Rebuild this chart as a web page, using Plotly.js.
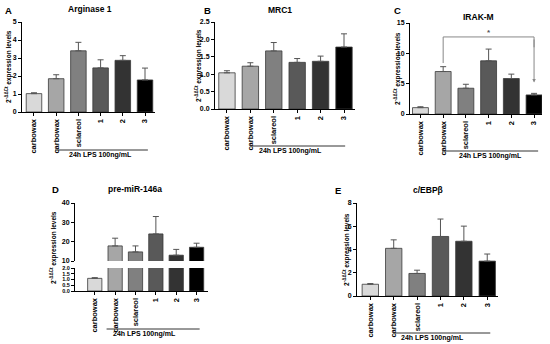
<!DOCTYPE html>
<html>
<head>
<meta charset="utf-8">
<script src="https://cdn.plot.ly/plotly-3.0.1.min.js"></script>
<style>html,body{margin:0;padding:0;background:#fff;}#chart{width:550px;height:344px;}</style>
</head>
<body>
<div id="chart"></div>
<script>
// ---- data ----
const categories = ["carbowax", "carbowax", "sclareol", "1", "2", "3"];
const barColors = ["#d9d9d9", "#a6a6a6", "#808080", "#595959", "#333333", "#000000"];

const arginase = [1.02, 1.85, 3.40, 2.45, 2.87, 1.78];
const arginaseErr = [0.05, 0.22, 0.47, 0.45, 0.26, 0.66];

const mrc1 = [1.04, 1.23, 1.67, 1.34, 1.37, 1.78];
const mrc1Err = [0.06, 0.10, 0.24, 0.11, 0.15, 0.38];

const irakm = [1.05, 7.0, 4.25, 8.77, 5.85, 3.14];
const irakmErr = [0.15, 0.80, 0.65, 1.93, 0.72, 0.26];

const premir = [1.1, 17.8, 14.7, 24.0, 13.0, 17.1];
const premirErr = [0.06, 4.0, 3.1, 9.0, 3.0, 2.1];

const cebpb = [1.01, 4.10, 1.94, 5.12, 4.71, 3.00];
const cebpbErr = [0.06, 0.73, 0.28, 1.50, 1.30, 0.61];

const xIdx = categories.map((c, i) => i);

// ---- helpers ----
const W = 550, H = 344;
const px = x => x / W;
const py = y => 1 - y / H;
const FONT = "Liberation Sans, Arial, sans-serif";
const bold = (size, color) => ({family: FONT, size: size, color: color || "#000", weight: "bold"});

function barTrace(vals, errs, xa, ya) {
  return {
    type: "bar", x: xIdx, y: vals, xaxis: xa, yaxis: ya,
    width: 0.7,
    marker: {color: barColors, line: {color: "#3a3a3a", width: 0.8}},
    error_y: {type: "data", symmetric: false, array: errs, arrayminus: errs.map(() => 0),
              color: "#555", thickness: 1, width: 3},
    hoverinfo: "skip"
  };
}

function xAxis(domain, range, anchor) {
  return {
    domain: domain, range: range, anchor: anchor,
    tickmode: "array", tickvals: xIdx, ticktext: categories, tickangle: -90,
    tickfont: bold(7.5), ticks: "outside", ticklen: 3, tickwidth: 1, tickcolor: "#000",
    showline: true, linecolor: "#000", linewidth: 1, showgrid: false, zeroline: false, fixedrange: true
  };
}
function yAxis(domain, range, dtick, anchor, fmt, fsize) {
  return {
    domain: domain, range: range, anchor: anchor, tickmode: "linear", tick0: 0, dtick: dtick,
    tickformat: fmt || "", tickfont: bold(fsize || 7), ticks: "outside", ticklen: 3, tickwidth: 1, tickcolor: "#000",
    showline: true, linecolor: "#000", linewidth: 1, showgrid: false, zeroline: false, fixedrange: true
  };
}

const data = [
  barTrace(arginase, arginaseErr, "x", "y"),
  barTrace(mrc1, mrc1Err, "x2", "y2"),
  barTrace(irakm, irakmErr, "x3", "y3"),
  // panel D: broken axis, lower and upper segments
  barTrace(premir, premirErr.map((e, i) => premir[i] <= 2 ? e : 0), "x4", "y4"),
  barTrace(premir, premirErr, "x4", "y5"),
  barTrace(cebpb, cebpbErr, "x5", "y6")
];

const yTitle = "2<sup>-ΔΔCt</sup> expression levels";

const annotations = [];
function ann(text, x, y, size, extra) {
  annotations.push(Object.assign({text: text, x: px(x), y: py(y), xref: "paper", yref: "paper",
    showarrow: false, font: bold(size), xanchor: "center", yanchor: "middle"}, extra || {}));
}
// panel letters
ann("A", 8, 10, 9.5);
ann("B", 207, 10, 9.5);
ann("C", 397, 10, 9.5);
ann("D", 55, 189, 9.5);
ann("E", 338, 190, 9.5);
// titles
ann("Arginase 1", 90, 9, 8.5);
ann("MRC1", 280, 10, 8.5);
ann("IRAK-M", 478, 17, 8.5);
ann("pre-miR-146a", 135, 189, 8.5);
ann("c/EBPβ", 428, 190, 8.5);
// y titles
ann(yTitle, 8, 67, 6.5, {textangle: -90});
ann(yTitle, 198, 66, 6.5, {textangle: -90});
ann(yTitle, 397, 69, 6.5, {textangle: -90});
ann(yTitle, 54, 248, 6.5, {textangle: -90});
ann(yTitle, 346, 250, 6.5, {textangle: -90});
// LPS labels
ann("24h LPS 100ng/mL", 100, 155, 7);
ann("24h LPS 100ng/mL", 290, 151, 7);
ann("24h LPS 100ng/mL", 490, 156, 7);
ann("24h LPS 100ng/mL", 144, 334, 7);
ann("24h LPS 100ng/mL", 432, 338, 7);
// significance in C
annotations.push({text: "*", x: 3, y: 13.4, xref: "x3", yref: "y3", showarrow: false, font: bold(8, "#555")});
annotations.push({text: " ", x: 5, y: 5.2, ax: 5, ay: 12.7, xref: "x3", yref: "y3", axref: "x3", ayref: "y3",
  showarrow: true, arrowhead: 2, arrowsize: 0.7, arrowwidth: 1, arrowcolor: "#888", font: bold(2)});

const shapes = [
  {type: "line", xref: "x", yref: "paper", x0: 0.95, x1: 5.13, y0: py(150), y1: py(150), line: {color: "#333", width: 1}},
  {type: "line", xref: "x2", yref: "paper", x0: 0.98, x1: 5.05, y0: py(146), y1: py(146), line: {color: "#333", width: 1}},
  {type: "line", xref: "x3", yref: "paper", x0: 0.95, x1: 5.18, y0: py(151), y1: py(151), line: {color: "#333", width: 1}},
  {type: "line", xref: "x4", yref: "paper", x0: 0.58, x1: 5.15, y0: py(329), y1: py(329), line: {color: "#333", width: 1}},
  {type: "line", xref: "x5", yref: "paper", x0: 0.97, x1: 5.13, y0: py(333), y1: py(333), line: {color: "#333", width: 1}},
  {type: "path", xref: "x3", yref: "y3", path: "M 1,8.4 L 1,12.7 L 5,12.7 L 5,11", line: {color: "#888", width: 1}}
];

const layout = {
  width: W, height: H, margin: {l: 0, r: 0, t: 0, b: 0},
  paper_bgcolor: "#fff", plot_bgcolor: "#fff", showlegend: false, bargap: 0.3,
  font: {family: FONT},
  xaxis: xAxis([px(22), px(155)], [-0.54, 5.45], "y"),
  yaxis: yAxis([py(112), py(22)], [0, 5], 1, "x"),
  xaxis2: xAxis([px(215), px(355)], [-0.51, 5.47], "y2"),
  yaxis2: yAxis([py(109), py(22)], [0, 2.5], 0.5, "x2", ".1f"),
  xaxis3: xAxis([px(410), px(542)], [-0.46, 5.35], "y3"),
  yaxis3: yAxis([py(114), py(23)], [0, 15], 5, "x3"),
  xaxis4: xAxis([px(75), px(208)], [-0.97, 5.56], "y4"),
  yaxis4: yAxis([py(291), py(268)], [0, 2], 0.5, "x4", ".1f", 5.5),
  yaxis5: yAxis([py(261), py(203)], [10, 40], 10, "x4"),
  xaxis5: xAxis([px(357), px(498)], [-0.57, 5.46], "y6"),
  yaxis6: yAxis([py(296), py(203)], [0, 8], 2, "x5"),
  annotations: annotations,
  shapes: shapes
};

Plotly.newPlot("chart", data, layout, {staticPlot: true, displayModeBar: false});
</script>
</body>
</html>
